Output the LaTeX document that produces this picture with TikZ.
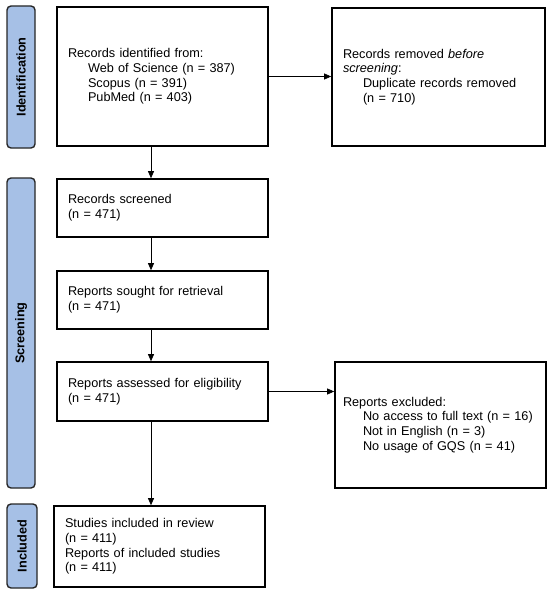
\documentclass[tikz,border=0pt]{standalone}
\usepackage{fontspec}
\setmainfont{Liberation Sans}
\usetikzlibrary{arrows.meta}
\definecolor{barblue}{RGB}{166,192,230}
\tikzset{
  recbox/.style={draw=black, line width=1.6pt, fill=white, inner xsep=11pt, align=left,
    font=\fontsize{12.7}{14.7}\selectfont},
  stagebar/.style={draw=black!85, line width=1.4pt, fill=barblue, rounded corners=4pt,
    rotate=90, font=\fontsize{12.7}{14}\selectfont\bfseries, inner sep=0pt},
  flowarrow/.style={line width=0.7pt, -{Triangle[length=7pt,width=6pt]}}
}
\newcommand{\sub}{\hspace*{20pt}}
\begin{document}
\begin{tikzpicture}[x=1pt,y=-1pt]
		%%%%% START %%%%%
		\useasboundingbox (0,0) rectangle (550,594);
		
		% side bars
		\node[stagebar, minimum width=142pt, minimum height=28pt] (barid) at (21,77) {Identification};
		\node[stagebar, minimum width=310pt, minimum height=28pt] (barscr) at (21,333) {Screening};
		\node[stagebar, minimum width=84pt, minimum height=30pt] (barinc) at (22,546) {Included};
		
		% boxes
		\node[recbox, minimum width=211pt, minimum height=139pt, text width=189pt] (ident) at (162.5,76.5)
			{Records identified from:\\ \sub Web of Science (n = 387)\\ \sub Scopus (n = 391)\\ \sub PubMed (n = 403)};
		\node[recbox, minimum width=213pt, minimum height=138pt, text width=191pt] (dupl) at (438.5,77)
			{Records removed \textit{before}\\ \textit{screening}:\\ \sub Duplicate records removed\\ \sub (n = 710)};
		\node[recbox, minimum width=211pt, minimum height=58pt, text width=189pt] (screen) at (162.5,208)
			{Records screened\\ (n = 471)};
		\node[recbox, minimum width=211pt, minimum height=58pt, text width=189pt] (sought) at (162.5,300)
			{Reports sought for retrieval\\ (n = 471)};
		\node[recbox, minimum width=211pt, minimum height=59pt, text width=189pt] (assess) at (162.5,391.5)
			{Reports assessed for eligibility\\ (n = 471)};
		\node[recbox, minimum width=211pt, minimum height=126pt, text width=195pt, inner xsep=8pt] (excl) at (440.5,425)
			{Reports excluded:\\ \sub No access to full text (n = 16)\\ \sub Not in English (n = 3)\\ \sub No usage of GQS (n = 41)};
		\node[recbox, minimum width=211pt, minimum height=81pt, text width=189pt] (incl) at (159.5,546.5)
			{Studies included in review\\ (n = 411)\\ Reports of included studies\\ (n = 411)};
		
		% arrows
		\coordinate (spine) at (151,0);
		\draw[flowarrow] (ident.south -| spine) -- (screen.north -| spine);
		\draw[flowarrow] (screen.south -| spine) -- (sought.north -| spine);
		\draw[flowarrow] (sought.south -| spine) -- (assess.north -| spine);
		\draw[flowarrow] (assess.south -| spine) -- (incl.north -| spine);
		\draw[flowarrow] (ident.east) -- (ident.east -| dupl.west);
		\draw[flowarrow] (assess.east) -- (assess.east -| excl.west);
		
		%%%%% END %%%%%
\end{tikzpicture}
\end{document}
